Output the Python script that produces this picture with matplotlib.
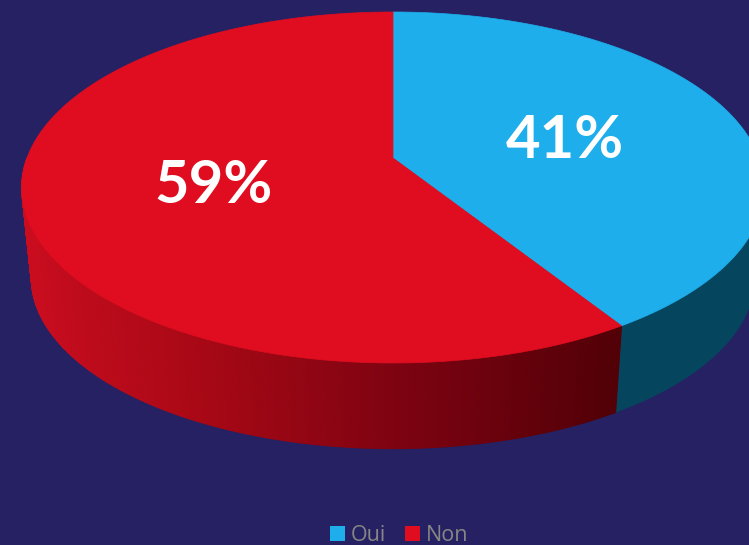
import matplotlib
matplotlib.use('Agg')
import matplotlib.pyplot as plt
from matplotlib.colors import LinearSegmentedColormap
from matplotlib.patches import Patch
import numpy as np

categories = ['Oui', 'Non']
values = [41, 59]
colors = ['#1eaeeb', '#e00d20']
side_colors = ['#05465e', None]

background = '#262162'

# Perspective of the disc, in picture pixels
center_x = 393
radius = 366
apex_y = 158
tilt_a = -144
tilt_c = 0.168

# Bottom rim of the disc
rim_scale = 0.974
rim_shift = 95.0

red_side = LinearSegmentedColormap.from_list('red_side', [
    (0.0, '#c90d1f'), (0.3, '#a80815'), (0.65, '#7c0311'), (1.0, '#530007')])


def project(theta, rim = False):
    # theta runs clockwise from the top of the pie
    x = radius * np.sin(theta)
    y = np.cos(theta)
    denominator = 1 + tilt_c * y
    px = center_x + x / denominator
    py = (tilt_a * y + apex_y) / denominator
    if rim:
        px = center_x + (px - center_x) * rim_scale
        py = py * rim_scale + rim_shift
    return px, py


def draw_side(ax, start, end, color):
    theta = np.linspace(start, end, 300)
    top_x, top_y = project(theta)
    low_x, low_y = project(theta, rim = True)
    if color is not None:
        ax.fill(np.r_[top_x, low_x[::-1]], np.r_[top_y, low_y[::-1]],
                color = color, lw = 0.5, zorder = 1)
        return
    # Red side is shaded left to right, one thin strip at a time
    for i in range(len(theta) - 1):
        shade = red_side(np.clip((top_x[i] - 25) / 590, 0, 1))
        ax.fill([top_x[i], top_x[i + 1], low_x[i + 1], low_x[i]],
                [top_y[i], top_y[i + 1], low_y[i + 1], low_y[i]],
                color = shade, lw = 0.8, zorder = 1)


def draw_pie(ax):
    angles = np.r_[0, np.cumsum(values)] / np.sum(values) * 2 * np.pi
    for i in range(len(values)):
        start, end = angles[i], angles[i + 1]
        # Only the front of the disc shows its side
        side_start = max(start, np.pi / 2)
        side_end = min(end, 3 * np.pi / 2)
        draw_side(ax, side_start, side_end, side_colors[i])

    for i in range(len(values)):
        start, end = angles[i], angles[i + 1]
        theta = np.linspace(start, end, 300)
        arc_x, arc_y = project(theta)
        ax.fill(np.r_[center_x, arc_x], np.r_[apex_y, arc_y],
                color = colors[i], lw = 0.5, zorder = 2)


def main():
    fig = plt.figure(figsize = (7.49, 5.45), dpi = 100, facecolor = background)
    ax = fig.add_axes([0, 0, 1, 1])
    ax.set_xlim(0, 749)
    ax.set_ylim(545, 0)
    ax.axis('off')

    draw_pie(ax)

    ax.text(565, 141, '41%', color = 'white', fontsize = 43, fontweight = 'bold',
            family = 'Lato', ha = 'center', va = 'center', zorder = 3)
    ax.text(214, 186, '59%', color = 'white', fontsize = 43, fontweight = 'bold',
            family = 'Lato', ha = 'center', va = 'center', zorder = 3)

    handles = [Patch(facecolor = c, label = n) for c, n in zip(colors, categories)]
    fig.legend(handles = handles, loc = 'lower center', ncols = 2, frameon = False,
               bbox_to_anchor = (0.533, -0.038), labelcolor = '#868686',
               prop = {'family': 'Open Sans', 'size': 15.5},
               handlelength = 0.7, handleheight = 0.7, handletextpad = 0.25,
               columnspacing = 0.9)

    fig.savefig('out.png', dpi = 100, facecolor = background)


if __name__ == '__main__':
    main()
